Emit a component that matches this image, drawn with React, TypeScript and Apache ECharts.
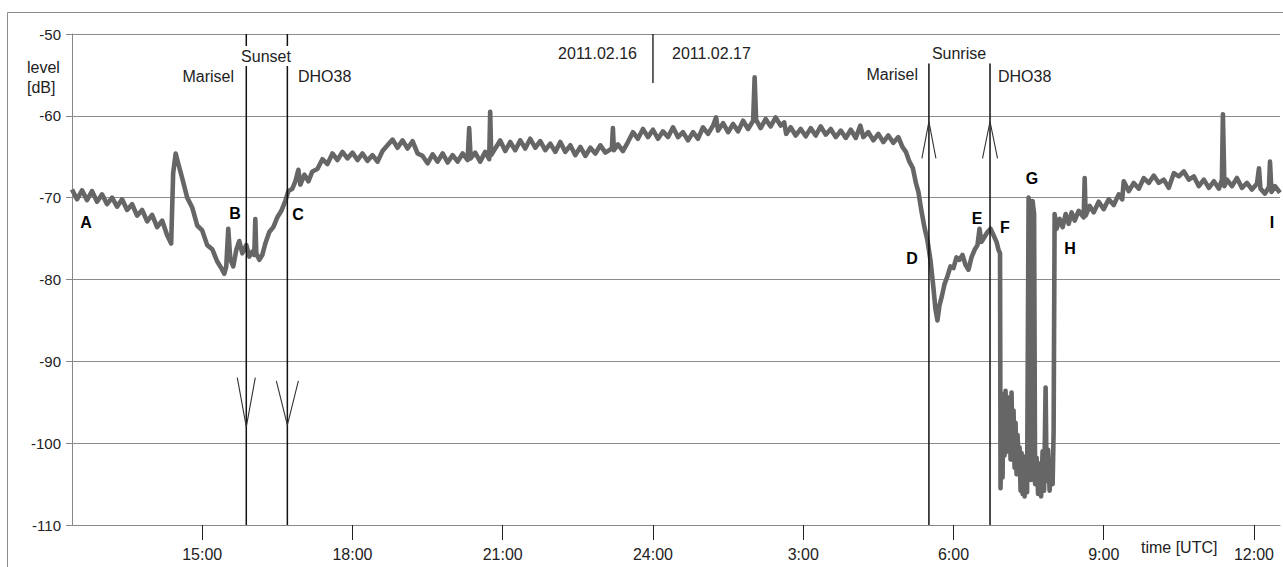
import React, { useEffect, useRef } from "react";
import * as echarts from "echarts";

// time in hours since 2011.02.16 00:00 UTC, level in dB
const eveningTrace: [number, number][] = [
  [12.4, -69.0], [12.5, -70.2], [12.6, -69.1], [12.7, -70.3], [12.8, -69.2], [12.9, -70.5],
  [13.0, -69.6], [13.1, -70.8], [13.2, -70.0], [13.3, -71.1], [13.4, -70.2], [13.5, -71.5],
  [13.6, -70.8], [13.7, -72.2], [13.8, -71.5], [13.9, -72.9], [14.0, -72.1], [14.1, -73.6],
  [14.2, -72.8], [14.3, -74.6], [14.38, -75.6], [14.42, -67.0], [14.47, -64.6], [14.52, -65.8],
  [14.6, -67.6], [14.7, -70.0], [14.8, -71.2], [14.9, -73.4], [15.0, -74.0], [15.1, -75.8],
  [15.2, -76.3], [15.3, -77.8], [15.38, -78.6], [15.44, -79.3], [15.48, -78.4], [15.52, -73.8],
  [15.56, -77.5], [15.62, -78.4], [15.68, -76.4], [15.74, -75.3], [15.8, -76.8], [15.88, -75.8],
  [15.94, -77.2], [16.0, -76.6], [16.04, -77.0], [16.06, -72.6], [16.08, -76.8], [16.14, -77.6],
  [16.2, -77.0], [16.26, -75.6], [16.34, -74.2], [16.42, -73.6], [16.5, -72.4], [16.58, -71.6],
  [16.66, -70.4], [16.72, -69.2], [16.8, -68.9], [16.86, -68.0], [16.92, -66.6], [16.96, -68.4],
  [17.04, -67.2], [17.12, -68.0], [17.2, -66.8], [17.3, -66.5], [17.4, -65.3], [17.5, -65.9],
  [17.6, -64.6], [17.7, -65.4], [17.8, -64.4], [17.9, -65.2], [18.0, -64.5], [18.1, -65.4],
  [18.2, -64.6], [18.3, -65.5], [18.4, -64.8], [18.5, -65.6], [18.6, -64.3], [18.7, -63.6],
  [18.8, -62.9], [18.9, -63.9], [19.0, -63.0], [19.1, -64.0], [19.2, -63.1], [19.3, -64.6],
  [19.4, -64.9], [19.5, -65.8], [19.6, -64.7], [19.7, -65.6], [19.8, -64.6], [19.9, -65.7],
  [20.0, -64.8], [20.1, -65.6], [20.2, -64.6], [20.3, -65.4], [20.33, -61.5], [20.36, -65.2],
  [20.45, -64.5], [20.55, -65.6], [20.65, -64.4], [20.73, -65.3], [20.75, -59.5], [20.77, -64.8],
  [20.85, -64.0], [20.95, -63.0], [21.05, -64.3], [21.15, -63.2], [21.25, -64.2], [21.35, -63.0],
  [21.45, -64.0], [21.55, -62.8], [21.65, -63.9], [21.75, -63.1], [21.85, -64.2], [21.95, -63.4],
  [22.05, -64.4], [22.15, -63.2], [22.25, -64.4], [22.35, -63.6], [22.45, -64.8], [22.55, -63.8],
  [22.65, -64.9], [22.75, -63.9], [22.85, -64.6], [22.95, -63.6], [23.05, -64.5], [23.18, -64.0],
  [23.2, -61.5], [23.22, -64.2], [23.3, -63.5], [23.4, -64.3], [23.5, -63.2], [23.6, -62.0],
  [23.7, -62.8], [23.8, -61.6], [23.9, -62.6],
];

const nightTrace: [number, number][] = [
  [24.0, -61.7], [24.1, -62.8], [24.2, -61.9], [24.3, -62.6], [24.4, -61.4], [24.5, -62.6],
  [24.6, -62.0], [24.7, -63.0], [24.8, -62.0], [24.9, -62.8], [25.0, -61.4], [25.1, -62.2],
  [25.2, -61.2], [25.26, -60.2], [25.3, -61.8], [25.4, -60.9], [25.5, -62.0], [25.6, -61.0],
  [25.7, -61.9], [25.8, -60.6], [25.9, -61.6], [26.0, -60.6], [26.03, -55.3], [26.06, -60.5],
  [26.15, -61.5], [26.25, -60.4], [26.35, -61.3], [26.45, -60.2], [26.55, -61.2], [26.62, -60.8],
  [26.66, -62.2], [26.75, -61.4], [26.85, -62.4], [26.95, -61.6], [27.05, -62.5], [27.15, -61.5],
  [27.25, -62.4], [27.35, -61.3], [27.45, -62.3], [27.55, -61.6], [27.65, -62.6], [27.75, -61.8],
  [27.85, -62.7], [27.95, -61.7], [28.05, -62.7], [28.14, -61.2], [28.2, -62.6], [28.3, -62.0],
  [28.4, -63.0], [28.5, -62.2], [28.6, -63.2], [28.7, -62.4], [28.8, -63.3], [28.9, -62.6],
];

const morningTrace: [number, number][] = [
  [28.98, -63.8], [29.05, -64.4], [29.12, -65.6], [29.19, -66.4], [29.25, -68.2], [29.3, -69.3],
  [29.36, -71.6], [29.42, -73.6], [29.48, -75.2], [29.54, -77.6], [29.6, -81.0], [29.64, -83.6],
  [29.68, -85.0], [29.72, -83.2], [29.77, -82.0], [29.82, -80.6], [29.88, -79.6], [29.94, -78.4],
  [30.0, -78.6], [30.06, -77.3], [30.12, -77.6], [30.18, -77.0], [30.24, -78.2], [30.3, -78.8],
  [30.36, -77.3], [30.42, -76.4], [30.48, -75.8], [30.52, -73.8], [30.56, -75.4], [30.62, -74.8],
  [30.68, -74.2], [30.74, -73.8], [30.8, -74.6], [30.86, -75.4], [30.9, -76.4], [30.93, -76.8],
  [30.94, -105.5], [30.96, -97.0], [30.98, -104.2], [31.0, -94.0], [31.02, -101.5], [31.04, -93.6],
  [31.06, -100.8], [31.08, -94.4], [31.1, -101.0], [31.12, -95.2], [31.14, -102.0], [31.16, -93.8],
  [31.18, -101.5], [31.2, -96.0], [31.22, -103.0], [31.24, -97.5], [31.26, -103.8], [31.28, -99.0],
  [31.3, -102.5], [31.32, -100.5], [31.34, -105.8], [31.36, -101.2], [31.38, -106.2], [31.4, -102.0],
  [31.42, -106.5], [31.44, -101.6], [31.47, -106.0], [31.5, -70.0], [31.53, -71.0], [31.55, -104.5],
  [31.58, -70.4], [31.61, -72.0], [31.63, -105.0], [31.66, -101.8], [31.69, -106.2], [31.72, -102.5],
  [31.75, -106.5], [31.78, -101.0], [31.81, -105.8], [31.84, -93.2], [31.86, -104.6], [31.89, -100.8],
  [31.92, -105.8], [31.95, -102.0], [31.98, -105.0], [32.0, -98.5], [32.02, -72.0], [32.06, -73.8],
  [32.12, -72.6], [32.18, -73.6], [32.24, -72.0], [32.3, -73.2], [32.36, -71.8], [32.42, -72.8],
  [32.5, -71.6], [32.6, -72.4], [32.62, -67.6], [32.64, -72.2], [32.72, -71.0], [32.8, -71.8],
  [32.9, -70.5], [33.0, -71.4], [33.1, -70.2], [33.2, -70.9], [33.3, -69.6], [33.37, -70.2],
  [33.4, -68.0], [33.5, -69.2], [33.6, -68.2], [33.7, -68.9], [33.8, -67.6], [33.9, -68.2],
  [34.0, -67.3], [34.1, -68.2], [34.2, -67.8], [34.3, -68.8], [34.4, -67.0], [34.5, -67.4],
  [34.6, -66.8], [34.7, -67.8], [34.8, -67.4], [34.9, -68.6], [35.0, -67.8], [35.1, -68.8],
  [35.2, -68.0], [35.3, -68.9], [35.36, -67.8], [35.38, -59.8], [35.41, -68.6], [35.46, -67.8],
  [35.56, -68.6], [35.66, -67.6], [35.76, -68.8], [35.86, -68.2], [35.96, -69.0], [36.06, -68.3],
  [36.1, -66.4], [36.13, -68.9], [36.22, -69.5], [36.3, -68.7], [36.32, -65.6], [36.35, -69.3],
  [36.42, -68.6], [36.52, -69.4],
];

const xTickValues = [15, 18, 21, 24, 27, 30, 33, 36];
const xTickLabels = ["15:00", "18:00", "21:00", "24:00", "3:00", "6:00", "9:00", "12:00"];

const sunsetTimes = [15.88, 16.7]; // Marisel, DHO38
const sunriseTimes = [29.51, 30.73]; // Marisel, DHO38
const dayChange = 24;

const letterLabels = [
  { t: "A", x: 86, y: 222 }, { t: "B", x: 235, y: 213 }, { t: "C", x: 298, y: 214 },
  { t: "D", x: 912, y: 258 }, { t: "E", x: 977, y: 218 }, { t: "F", x: 1005, y: 227 },
  { t: "G", x: 1032, y: 178 }, { t: "H", x: 1070, y: 248 }, { t: "I", x: 1272, y: 222 },
];

const FONT = '"Liberation Sans", Arial, sans-serif';

export default function App() {
  const ref = useRef<HTMLDivElement>(null);
  useEffect(() => {
    if (!ref.current) return;
    const chart = echarts.init(ref.current, undefined, { renderer: "svg" });
    const trace = [...eveningTrace, ...nightTrace, ...morningTrace];

    const vLine = (t: number, top: number) => ({
      type: "line",
      data: [[t, top], [t, -110]],
      showSymbol: false,
      lineStyle: { color: "#111", width: 1.5 },
      z: 5,
      silent: true,
    });
    const arrow = (t: number, tip: number, arm: number, dt: number) => ({
      type: "line",
      data: [[t - dt, arm], [t, tip], [t + dt, arm]],
      showSymbol: false,
      lineStyle: { color: "#333", width: 1.1 },
      z: 5,
      silent: true,
    });

    const txt = (text: string, x: number, y: number, align: string, opts: any = {}) => ({
      type: "text",
      x,
      y,
      z: 100,
      style: {
        text,
        font: `${opts.weight || "normal"} ${opts.size || 16}px ${FONT}`,
        fill: opts.fill || "#222",
        align,
        verticalAlign: "middle",
        backgroundColor: opts.bg,
        padding: opts.bg ? [2, 1, 2, 1] : 0,
      },
    });

    chart.setOption({
      animation: false,
      backgroundColor: "#fff",
      grid: { left: 72, right: 3, top: 34, bottom: 42, containLabel: false },
      xAxis: {
        type: "value",
        min: 12.4,
        max: 36.52,
        axisLine: { show: true, lineStyle: { color: "#888", width: 1 } },
        axisTick: { show: true, customValues: xTickValues, length: 15, lineStyle: { color: "#222", width: 1 } },
        axisLabel: {
          customValues: xTickValues,
          formatter: (v: number) => xTickLabels[xTickValues.indexOf(Math.round(v))] ?? "",
          margin: 21,
          fontSize: 16,
          fontFamily: FONT,
          color: "#222",
        },
        splitLine: { show: false },
      },
      yAxis: {
        type: "value",
        min: -110,
        max: -50,
        interval: 10,
        axisLine: { show: true, lineStyle: { color: "#888", width: 1 } },
        axisTick: { show: true, length: 6, lineStyle: { color: "#888" } },
        axisLabel: { margin: 11, fontSize: 15, fontFamily: FONT, color: "#222" },
        splitLine: { show: true, lineStyle: { color: "#8c8c8c", width: 1 } },
      },
      series: [
        {
          type: "line",
          data: trace,
          showSymbol: false,
          lineStyle: { color: "#666", width: 4.6, join: "round" },
          z: 3,
          silent: true,
        },
        vLine(sunsetTimes[0], -50),
        vLine(sunsetTimes[1], -50),
        vLine(sunriseTimes[0], -53.6),
        vLine(sunriseTimes[1], -53.6),
        {
          type: "line",
          data: [[dayChange, -50], [dayChange, -56]],
          showSymbol: false,
          lineStyle: { color: "#111", width: 1.3 },
          z: 5,
          silent: true,
        },
        arrow(sunsetTimes[0], -98.0, -92.0, 0.18),
        arrow(sunsetTimes[1], -97.8, -92.4, 0.22),
        arrow(sunriseTimes[0], -60.7, -65.2, 0.14),
        arrow(sunriseTimes[1], -60.7, -65.2, 0.15),
      ],
      graphic: [
        {
          type: "rect",
          z: -1,
          shape: { x: 7.5, y: 12.5, width: 1300, height: 600 },
          style: { fill: "none", stroke: "#8c8c8c", lineWidth: 1 },
          silent: true,
        },
        txt("level", 27, 67, "left"),
        txt("[dB]", 27, 87, "left"),
        txt("Sunset", 266, 56, "center", { bg: "#fff" }),
        txt("Marisel", 234, 76, "right"),
        txt("DHO38", 298, 76, "left"),
        txt("2011.02.16", 637, 53, "right"),
        txt("2011.02.17", 672, 53, "left"),
        txt("Sunrise", 959, 53, "center"),
        txt("Marisel", 918, 74, "right"),
        txt("DHO38", 998, 76, "left"),
        txt("time [UTC]", 1141, 547, "left"),
        ...letterLabels.map((l) => txt(l.t, l.x, l.y, "center", { weight: "bold", size: 16, fill: "#000" })),
      ],
    });
    return () => chart.dispose();
  }, []);
  return (
    <div
      ref={ref}
      style={{ position: "fixed", left: 0, top: 0, width: 1283, height: 567, background: "#fff" }}
    />
  );
}
